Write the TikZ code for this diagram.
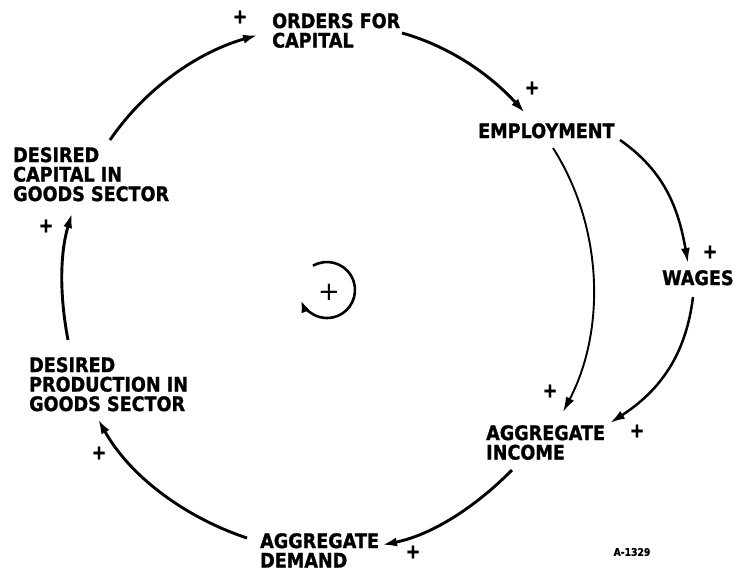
\documentclass[tikz,border=0pt]{standalone}
\usepackage{fontspec}
\setmainfont{DejaVu Sans}
\newfontfamily\lett[FakeStretch=0.88,FakeBold=1.2]{DejaVu Sans Bold}
\usetikzlibrary{arrows.meta}
\begin{document}
\begin{tikzpicture}[x=1pt,y=1pt,
  lbl/.style={font=\lett\fontsize{20}{19.5}\selectfont, inner sep=0pt, anchor=north west, align=left},
  pl/.style={font=\lett\fontsize{20}{20}\selectfont, inner sep=0pt},
  tip/.style={-{Latex[length=15pt,width=9pt]}},
  lnk/.style={line width=2.9pt, tip, looseness=0.88},
  thinlnk/.style={line width=1.9pt, tip, looseness=0.9},
  midlnk/.style={line width=2.5pt, tip}
]
\useasboundingbox (0,0) rectangle (736,-571);
% nodes
\node[lbl] (oc) at (272,-13) {ORDERS FOR\\CAPITAL};
\node[lbl] (emp) at (478,-123) {EMPLOYMENT};
\node[lbl] (wag) at (662,-270) {WAGES};
\node[lbl] (inc) at (486,-425) {AGGREGATE\\INCOME};
\node[lbl] (dem) at (260,-533) {AGGREGATE\\DEMAND};
\node[lbl] (dprod) at (29,-357) {DESIRED\\PRODUCTION IN\\GOODS SECTOR};
\node[lbl] (dcap) at (13,-147) {DESIRED\\CAPITAL IN\\GOODS SECTOR};
% polarity signs
\node[pl] (p1) at (240,-17) {+};
\node[pl] (p2) at (532,-88) {+};
\node[pl] (p3) at (710,-252) {+};
\node[pl] (p4) at (550,-391) {+};
\node[pl] (p5) at (637,-431) {+};
\node[pl] (p6) at (413,-552) {+};
\node[pl] (p7) at (99,-453) {+};
\node[pl] (p8) at (46,-226) {+};
% links
\draw[lnk] ([shift={(97,7)}]dcap.north west) to[out=55.7,in=195.8] ([shift={(-14,-22)}]oc.north west);
\draw[lnk] ([shift={(130,-20)}]oc.north west) to[out=-15.6,in=132.2] ([shift={(47,10)}]emp.north west);
\draw[thinlnk] ([shift={(75,-25)}]emp.north west) to[out=-57.5,in=62.4] ([shift={(77,13)}]inc.north west);
\draw[midlnk] ([shift={(142,-17)}]emp.north west) to[out=-35,in=100] ([shift={(26,7)}]wag.north west);
\draw[midlnk] ([shift={(31,-27)}]wag.north west) to[out=-97,in=33] ([shift={(124,2)}]inc.north west);
\draw[lnk] ([shift={(26,-45)}]inc.north west) to[out=-134.7,in=11.5] ([shift={(122,-12)}]dem.north west);
\draw[lnk] ([shift={(-13,-5)}]dem.north west) to[out=161.5,in=-60.9] ([shift={(69,-62)}]dprod.north west);
\draw[lnk] ([shift={(39,17)}]dprod.north west) to[out=100.8,in=253.4] ([shift={(59,-66)}]dcap.north west);
% loop symbol
\node[inner sep=0pt, font=\fontsize{26}{26}\selectfont] (loop) at (329,-292) {+};
\draw[line width=2.6pt, -{Latex[length=12pt,width=9pt]}] ([shift={(120:28)}]327,-290) arc[start angle=120, end angle=-158, radius=28];
% drawing number
\node[inner sep=0pt, font=\lett\fontsize{10.5}{10.5}\selectfont] (num) at (632,-552) {A-1329};
\end{tikzpicture}
\end{document}
